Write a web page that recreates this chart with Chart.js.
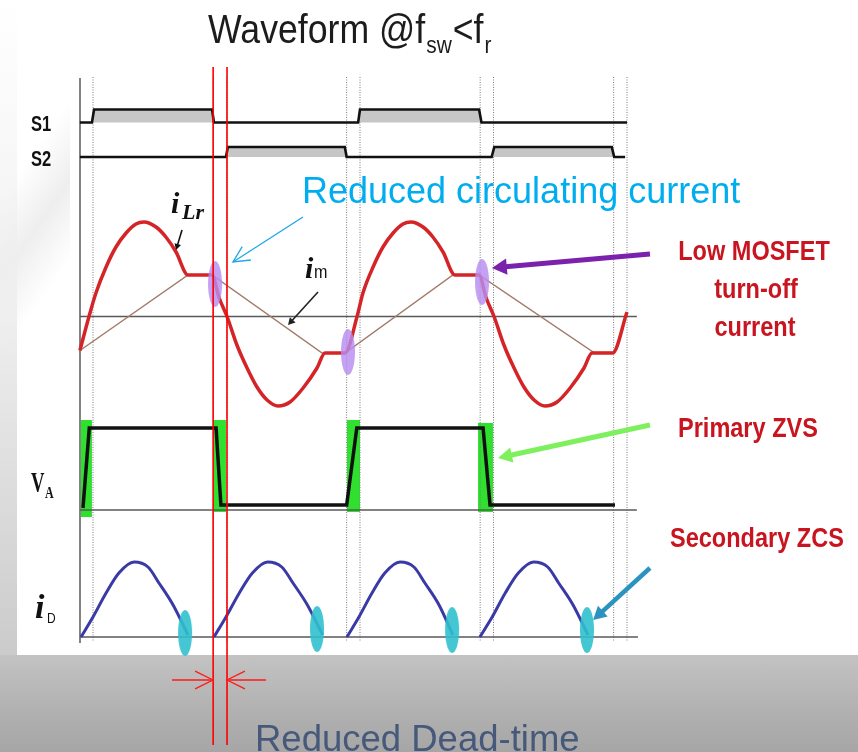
<!DOCTYPE html>
<html lang="en">
<head>
  <meta charset="UTF-8" />
  <title>Waveform @fsw&lt;fr</title>
  <script src="https://cdn.jsdelivr.net/npm/chart.js"></script>
  <style>
    html, body { margin: 0; padding: 0; }
    body { width: 858px; height: 752px; position: relative; overflow: hidden; background: #fff; }
    .side { position: absolute; left: 0; top: 0; width: 17px; height: 655px;
            background: linear-gradient(to bottom, #ffffff 0%, #f1f1f1 45%, #cbcbcb 100%); }
    .wedge { position: absolute; left: 0; top: 60px; width: 70px; height: 300px;
             background: linear-gradient(125deg, rgba(255,255,255,0) 35%, #eeeeee 55%, rgba(255,255,255,0) 75%); }
    .band { position: absolute; left: 0; top: 655px; width: 858px; height: 97px;
            background: linear-gradient(to bottom, #c3c3c3 0%, #b0b0b0 60%, #a6a6a6 100%); }
    .wrap { position: absolute; left: 0; top: 0; width: 858px; height: 752px; }
  </style>
</head>
<body>
<div class="side"></div>
<div class="wedge"></div>
<div class="band"></div>
<div class="wrap"><canvas id="waveChart"></canvas></div>

<script>
  // time axis: one switching period = 100 units, t = 0 at S1 turn-on
  const gridTimes = [0, 45, 50, 95, 100, 145, 150, 195, 200];
  const deadTimeEdges = [45, 50.2];

  // gate signals (0 = off, 1 = on)
  const s1Time  = [-4.9, -0.4, 0.4, 44.6, 45.3, 99.3, 100, 144.6, 145.5, 200];
  const s1Level = [0, 0, 1, 1, 0, 0, 1, 1, 0, 0];
  const s2Time  = [-4.9, 49.8, 50.5, 94.3, 95, 149.3, 150.3, 194.3, 195.2, 199.3];
  const s2Level = [0, 0, 1, 1, 0, 0, 1, 1, 0, 0];

  // resonant current iLr
  const iLrTime = [-4.9, -1.5, 1.1, 4.9, 8.6, 12.4, 16.1, 19.1, 23.6, 27.3, 31.1, 35.6, 44.6, 47.2,
                   50.2, 53.9, 57.7, 61.4, 65.2, 69.3, 73.8, 78.7, 83.9, 86.9, 94.4,
                   98.9, 101.1, 104.9, 108.6, 112.4, 116.1, 119.1, 123.6, 127.3, 131.1, 135.6, 144.6, 147.2,
                   150.2, 153.9, 157.7, 161.4, 165.2, 169.3, 173.8, 178.7, 183.9, 186.9, 194.6, 200];
  const iLrValue = [-3.4, 0, 2.35, 4.95, 6.95, 8.35, 9.25, 9.45, 8.95, 7.95, 6.45, 4.15, 4.15, 1.9,
                    0, -2.85, -5.15, -7.05, -8.35, -8.95, -8.55, -7.15, -5.15, -3.65, -3.65,
                    0, 2.35, 4.95, 6.95, 8.35, 9.25, 9.45, 8.95, 7.95, 6.45, 4.15, 4.15, 1.9,
                    0, -2.85, -5.15, -7.05, -8.35, -8.95, -8.55, -7.15, -5.15, -3.65, -3.65, 0.45];

  // magnetizing current im
  const imTime  = [-4.9, 35.6, 44.6, 85.8, 94.4, 134.8, 144.6, 187.6, 194.6];
  const imValue = [-3.4, 4.15, 4.15, -3.65, -3.65, 4.15, 4.15, -3.6, -3.6];

  // bridge voltage VA
  const vaTime  = [-3.75, -1.4, 46.1, 47.9, 95.0, 98.8, 146.1, 148.7, 195.5];
  const vaValue = [0.2, 8.2, 8.2, 0.5, 0.5, 8.2, 8.2, 0.5, 0.5];

  // ZVS transition windows
  const zvsStart  = [-4.5, 44.9, 95.1, 144.2];
  const zvsEnd    = [-0.4, 49.8, 100, 149.8];
  const zvsTop    = [9.0, 9.0, 9.0, 8.7];
  const zvsBottom = [-0.7, -0.2, -0.2, -0.2];

  // rectifier diode current iD (null = gap between pulses)
  const idTime  = [-4.5, 0, 4.9, 9.7, 15.4, 20.6, 24.7, 30, 35.6, 40,
                   45.3, 49.8, 54.8, 59.7, 65.4, 70.7, 74.9, 80.3, 86, 90,
                   95.1, 99.6, 104.5, 109.3, 115, 120.2, 124.3, 129.6, 134.8, 140,
                   144.9, 149.5, 154.4, 159.3, 165, 170.3, 174.4, 179.8, 185.4];
  const idValue = [0, 2.0, 4.4, 6.4, 7.5, 7.0, 5.4, 3.2, 0.2, null,
                   0, 2.0, 4.4, 6.4, 7.5, 7.0, 5.4, 3.2, 0.2, null,
                   0, 2.0, 4.4, 6.4, 7.5, 7.0, 5.4, 3.2, 0.2, null,
                   0, 2.0, 4.4, 6.4, 7.5, 7.0, 5.4, 3.2, 0.2];

  // highlighted instants
  const turnOffTime  = [45.7, 95.5, 145.7];
  const turnOffValue = [3.25, -3.55, 3.45];
  const zcsTime  = [34.5, 83.9, 134.5, 185];
  const zcsValue = [0.4, 0.8, 0.7, 0.7];

  // ---- layout ----
  const X0 = 93, PX_PER_T = 2.67, W = 858, H = 752;
  const panel = {
    s1:  { base: 122.5, gain: 13 },
    s2:  { base: 157, gain: 10 },
    ilr: { base: 316.5, gain: 10 },
    va:  { base: 510, gain: 10 },
    id:  { base: 637, gain: 10 }
  };
  const row = (p, v) => (v === null ? null : p.base - p.gain * v);
  const pts = (times, vals, p) => times.map((t, i) => ({ x: t, y: row(p, vals[i]) }));

  const gridPts = [];
  gridTimes.forEach(t => gridPts.push({ x: t, y: 77 }, { x: t, y: 642 }, { x: t, y: null }));
  const deadPts = [];
  deadTimeEdges.forEach(t => deadPts.push({ x: t, y: 67 }, { x: t, y: 745 }, { x: t, y: null }));
  const axisPts = [
    { x: -4.87, y: 78 }, { x: -4.87, y: 643 }, { x: -4.87, y: null },
    { x: -4.87, y: panel.ilr.base }, { x: 203.7, y: panel.ilr.base }, { x: 203.7, y: null },
    { x: -4.87, y: panel.va.base }, { x: 203.7, y: panel.va.base }, { x: 203.7, y: null },
    { x: -4.87, y: panel.id.base }, { x: 204.1, y: panel.id.base }
  ];

  function ellipseStyle(rx, ry, color) {
    const c = document.createElement('canvas');
    c.width = rx * 2 + 2; c.height = ry * 2 + 2;
    const g = c.getContext('2d');
    g.fillStyle = color;
    g.beginPath();
    g.ellipse(c.width / 2, c.height / 2, rx, ry, 0, 0, Math.PI * 2);
    g.fill();
    return c;
  }

  const zvsSets = zvsStart.map((s, i) => ({
    data: [{ x: s, y: row(panel.va, zvsTop[i]) }, { x: zvsEnd[i], y: row(panel.va, zvsTop[i]) }],
    borderWidth: 0,
    backgroundColor: '#2fe02f',
    fill: { value: row(panel.va, zvsBottom[i]) },
    order: 9
  }));

  // arrows and labels (time units on x, pixel rows on y)
  const arrows = [
    { a: [33.33, 230], b: [31.09, 250], color: '#111', w: 1.6, head: 7, filled: true },
    { a: [84.27, 292], b: [73.03, 325], color: '#222', w: 1.6, head: 8, filled: true },
    { a: [78.65, 217], b: [52.43, 262], color: '#1aa8e6', w: 1.3, head: 18, filled: false },
    { a: [208.6, 254], b: [149.4, 268], color: '#7b22ad', w: 5, head: 17, filled: true },
    { a: [208.6, 425], b: [151.7, 458], color: '#7ef05e', w: 5, head: 16, filled: true },
    { a: [208.6, 568], b: [187.3, 620], color: '#2a93c0', w: 4.5, head: 15, filled: true },
    { a: [29.6, 680], b: [44.94, 680], color: '#ff1a1a', w: 1.3, head: 20, filled: false },
    { a: [64.8, 680], b: [50.19, 680], color: '#ff1a1a', w: 1.3, head: 20, filled: false }
  ];

  function txt(ctx, s, x, y, font, color, sx = 1, align = 'left') {
    ctx.save();
    ctx.font = font;
    ctx.fillStyle = color;
    ctx.textBaseline = 'alphabetic';
    const w = ctx.measureText(s).width * sx;
    ctx.translate(align === 'center' ? x - w / 2 : x, y);
    ctx.scale(sx, 1);
    ctx.fillText(s, 0, 0);
    ctx.restore();
    return w;
  }

  function drawArrow(ctx, x1, y1, x2, y2, o) {
    const ang = Math.atan2(y2 - y1, x2 - x1);
    const spread = o.filled ? 0.5 : 0.46;
    const hx1 = x2 - o.head * Math.cos(ang - spread), hy1 = y2 - o.head * Math.sin(ang - spread);
    const hx2 = x2 - o.head * Math.cos(ang + spread), hy2 = y2 - o.head * Math.sin(ang + spread);
    ctx.save();
    ctx.strokeStyle = o.color;
    ctx.fillStyle = o.color;
    ctx.lineWidth = o.w;
    ctx.lineCap = 'butt';
    const stop = o.filled ? o.head * 0.8 : 0;
    ctx.beginPath();
    ctx.moveTo(x1, y1);
    ctx.lineTo(x2 - stop * Math.cos(ang), y2 - stop * Math.sin(ang));
    ctx.stroke();
    ctx.beginPath();
    if (o.filled) {
      ctx.moveTo(x2, y2); ctx.lineTo(hx1, hy1); ctx.lineTo(hx2, hy2); ctx.closePath(); ctx.fill();
    } else {
      ctx.lineWidth = Math.max(1.2, o.w);
      ctx.moveTo(hx1, hy1); ctx.lineTo(x2, y2); ctx.lineTo(hx2, hy2); ctx.stroke();
    }
    ctx.restore();
  }

  const annotations = {
    id: 'annotations',
    afterDatasetsDraw(chart) {
      const { ctx, scales: { x, y } } = chart;
      arrows.forEach(o => drawArrow(ctx,
        x.getPixelForValue(o.a[0]), y.getPixelForValue(o.a[1]),
        x.getPixelForValue(o.b[0]), y.getPixelForValue(o.b[1]), o));

      const sans = '"Liberation Sans", Arial, sans-serif';
      const serif = '"Liberation Serif", "Times New Roman", serif';

      // title
      let cx = 208;
      cx += txt(ctx, 'Waveform @f', cx, 43, `41px ${sans}`, '#1c1c1c', 0.87);
      cx += txt(ctx, 'sw', cx + 1, 53, `24px ${sans}`, '#1c1c1c', 0.87) + 2;
      cx += txt(ctx, '<f', cx, 43, `41px ${sans}`, '#1c1c1c', 0.87);
      txt(ctx, 'r', cx + 1, 53, `24px ${sans}`, '#1c1c1c', 0.87);

      // signal names
      txt(ctx, 'S1', 31, 131, `bold 22px ${sans}`, '#111', 0.75);
      txt(ctx, 'S2', 31, 166, `bold 22px ${sans}`, '#111', 0.75);
      txt(ctx, 'i', 171, 213, `bold italic 30px ${serif}`, '#111');
      txt(ctx, 'Lr', 182, 219, `bold italic 22px ${serif}`, '#111');
      txt(ctx, 'i', 305, 278, `bold italic 30px ${serif}`, '#111');
      txt(ctx, 'm', 314, 278, `19px ${sans}`, '#111', 0.85);
      txt(ctx, 'V', 31, 492, `bold 30px ${serif}`, '#111', 0.62);
      txt(ctx, 'A', 45, 498, `bold 16px ${serif}`, '#111', 0.75);
      txt(ctx, 'i', 35, 618, `bold italic 34px ${serif}`, '#111');
      txt(ctx, 'D', 47, 623, `15px ${sans}`, '#111', 0.8);

      // callouts
      txt(ctx, 'Reduced circulating current', 302, 203, `36px ${sans}`, '#00aeef');
      const red = '#c8151f', rf = `bold 28px ${sans}`;
      txt(ctx, 'Low MOSFET', 754, 260, rf, red, 0.84, 'center');
      txt(ctx, 'turn-off', 756, 298, rf, red, 0.84, 'center');
      txt(ctx, 'current', 755, 336, rf, red, 0.84, 'center');
      txt(ctx, 'Primary ZVS', 678, 437, rf, red, 0.84);
      txt(ctx, 'Secondary ZCS', 670, 547, rf, red, 0.84);
      txt(ctx, 'Reduced Dead-time', 255, 751, `36.5px ${sans}`, '#46597a');
    }
  };

  new Chart(document.getElementById('waveChart'), {
    type: 'line',
    data: {
      datasets: [
        { label: 'dead time', data: deadPts, borderColor: '#ff0000', borderWidth: 1.6, order: 0 },
        { label: 'turn-off', data: pts(turnOffTime, turnOffValue, panel.ilr), showLine: false,
          pointRadius: 5, pointStyle: ellipseStyle(7, 23, 'rgba(184,140,240,0.82)'), order: 1 },
        { label: 'ZCS', data: pts(zcsTime, zcsValue, panel.id), showLine: false,
          pointRadius: 5, pointStyle: ellipseStyle(7, 23, 'rgba(48,192,206,0.9)'), order: 1 },
        { label: 'iLr', data: pts(iLrTime, iLrValue, panel.ilr), borderColor: '#d42428', borderWidth: 3.5,
          cubicInterpolationMode: 'monotone', order: 3 },
        { label: 'VA', data: pts(vaTime, vaValue, panel.va), borderColor: '#111', borderWidth: 3.5, order: 3 },
        { label: 'iD', data: pts(idTime, idValue, panel.id), borderColor: '#3a3aa6', borderWidth: 3,
          cubicInterpolationMode: 'monotone', order: 3 },
        { label: 'S1', data: pts(s1Time, s1Level, panel.s1), borderColor: '#111', borderWidth: 2.6,
          backgroundColor: '#c6c6c6', fill: { value: panel.s1.base }, order: 4 },
        { label: 'S2', data: pts(s2Time, s2Level, panel.s2), borderColor: '#111', borderWidth: 2.6,
          backgroundColor: '#c6c6c6', fill: { value: panel.s2.base }, order: 4 },
        { label: 'im', data: pts(imTime, imValue, panel.ilr), borderColor: '#a27c68', borderWidth: 1.5, order: 5 },
        { label: 'axes', data: axisPts, borderColor: '#5a5a5a', borderWidth: 1.5, order: 6 },
        { label: 'grid', data: gridPts, borderColor: '#7a7a7a', borderWidth: 1, borderDash: [1, 1.5], order: 7 },
        ...zvsSets
      ]
    },
    options: {
      responsive: true,
      maintainAspectRatio: false,
      animation: false,
      events: [],
      layout: { padding: 0, autoPadding: false },
      elements: { point: { radius: 0 }, line: { tension: 0, fill: false } },
      plugins: { legend: { display: false }, tooltip: { enabled: false } },
      scales: {
        x: { type: 'linear', display: false, min: -X0 / PX_PER_T, max: (W - X0) / PX_PER_T },
        y: { type: 'linear', display: false, min: 0, max: H, reverse: true }
      }
    },
    plugins: [annotations]
  });
</script>
</body>
</html>
